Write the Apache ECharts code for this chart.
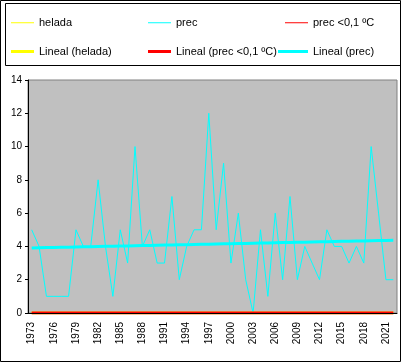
<!DOCTYPE html>
<html>
<head>
<meta charset="utf-8">
<script src="https://cdn.jsdelivr.net/npm/echarts@6/dist/echarts.min.js"></script>
<style>html,body{margin:0;padding:0;background:#fff}#c{width:402px;height:363px}</style>
</head>
<body>
<div id="c"></div>
<script>
const years = [1973,1974,1975,1976,1977,1978,1979,1980,1981,1982,1983,1984,1985,1986,1987,1988,1989,1990,1991,1992,1993,1994,1995,1996,1997,1998,1999,2000,2001,2002,2003,2004,2005,2006,2007,2008,2009,2010,2011,2012,2013,2014,2015,2016,2017,2018,2019,2020,2021,2022];
const prec = [5,4,1,1,1,1,5,4,4,8,4,1,5,3,10,4,5,3,3,7,2,4,5,5,12,5,9,3,6,2,0,5,1,6,2,7,2,4,3,2,5,4,4,3,4,3,10,6,2,2];
const helada = [0,0,0,0,0,0,0,0,0,0,0,0,0,0,0,0,0,0,0,0,0,0,0,0,0,0,0,0,0,0,0,0,0,0,0,0,0,0,0,0,0,0,0,0,0,0,0,0,0,0];
const precBajo = [0,0,0,0,0,0,0,0,0,0,0,0,0,0,0,0,0,0,0,0,0,0,0,0,0,0,0,0,0,0,0,0,0,0,0,0,0,0,0,0,0,0,0,0,0,0,0,0,0,0];
const yTicks = [0,2,4,6,8,10,12,14];
const names = ['helada','prec','prec <0,1 ºC','Lineal (helada)','Lineal (prec <0,1 ºC)','Lineal (prec)'];

function linear(vals){
  const n = vals.length;
  let sx=0, sy=0, sxx=0, sxy=0;
  vals.forEach((v,i)=>{ sx+=i; sy+=v; sxx+=i*i; sxy+=i*v; });
  const b = (n*sxy - sx*sy)/(n*sxx - sx*sx);
  const a = (sy - b*sx)/n;
  return vals.map((v,i)=>+(a+b*i).toFixed(4));
}

const chart = echarts.init(document.getElementById('c'), null, {renderer:'canvas'});
const font = 'Liberation Sans, Arial, sans-serif';
function lg(name, left, top, w, h){
  return {data:[name], left:left, top:top, padding:0, itemWidth:w, itemHeight:h, icon:'rect',
    selectedMode:false, textStyle:{fontFamily:font, fontSize:11, color:'#000'}};
}
chart.setOption({
  animation:false,
  backgroundColor:'#fff',
  graphic:[
    {type:'rect', shape:{x:0.5,y:0.5,width:400,height:361}, style:{fill:null, stroke:'#000', lineWidth:1}, silent:true},
    {type:'rect', shape:{x:5.5,y:3.5,width:395,height:62}, style:{fill:null, stroke:'#000', lineWidth:1}, silent:true}
  ],
  legend:[
    lg(names[0], 11, 17.25, 23, 1),
    lg(names[1], 148, 17.25, 23, 1),
    lg(names[2], 285, 17.25, 23, 1),
    lg(names[3], 11, 46, 23, 3),
    lg(names[4], 148, 46, 23, 3),
    lg(names[5], 278, 46, 30, 3)
  ],
  grid:{left:28, top:80, width:369, height:233, show:true, backgroundColor:'#c0c0c0', borderColor:'#808080', borderWidth:1},
  xAxis:{
    type:'category', data:years.map(String), boundaryGap:true, z:5,
    axisLine:{lineStyle:{color:'#000', width:1}},
    axisTick:{interval:0, length:4, lineStyle:{color:'#000'}},
    axisLabel:{interval:2, rotate:90, margin:9, fontFamily:font, fontSize:10, color:'#000'},
    splitLine:{show:false}
  },
  yAxis:{
    type:'value', min:yTicks[0], max:yTicks[yTicks.length-1], interval:2, z:5,
    axisLine:{show:true, lineStyle:{color:'#000', width:1}},
    axisTick:{show:true, length:3, lineStyle:{color:'#000'}},
    axisLabel:{margin:6, fontFamily:font, fontSize:10, color:'#000'},
    splitLine:{show:false}
  },
  series:[
    {name:names[0], type:'line', data:helada, color:'#ffff00', symbol:'none', lineStyle:{width:1, color:'#ffff00'}},
    {name:names[1], type:'line', data:prec, color:'#00ffff', symbol:'none', lineStyle:{width:1, color:'#00ffff'}},
    {name:names[2], type:'line', data:precBajo, color:'#ff0000', symbol:'none', lineStyle:{width:1, color:'#ff0000'}},
    {name:names[3], type:'line', data:linear(helada), color:'#ffff00', symbol:'none', lineStyle:{width:3, color:'#ffff00'}},
    {name:names[4], type:'line', data:linear(precBajo), color:'#ff0000', symbol:'none', lineStyle:{width:3, color:'#ff0000'}},
    {name:names[5], type:'line', data:linear(prec), color:'#00ffff', symbol:'none', lineStyle:{width:3, color:'#00ffff'}}
  ]
});
</script>
</body>
</html>
